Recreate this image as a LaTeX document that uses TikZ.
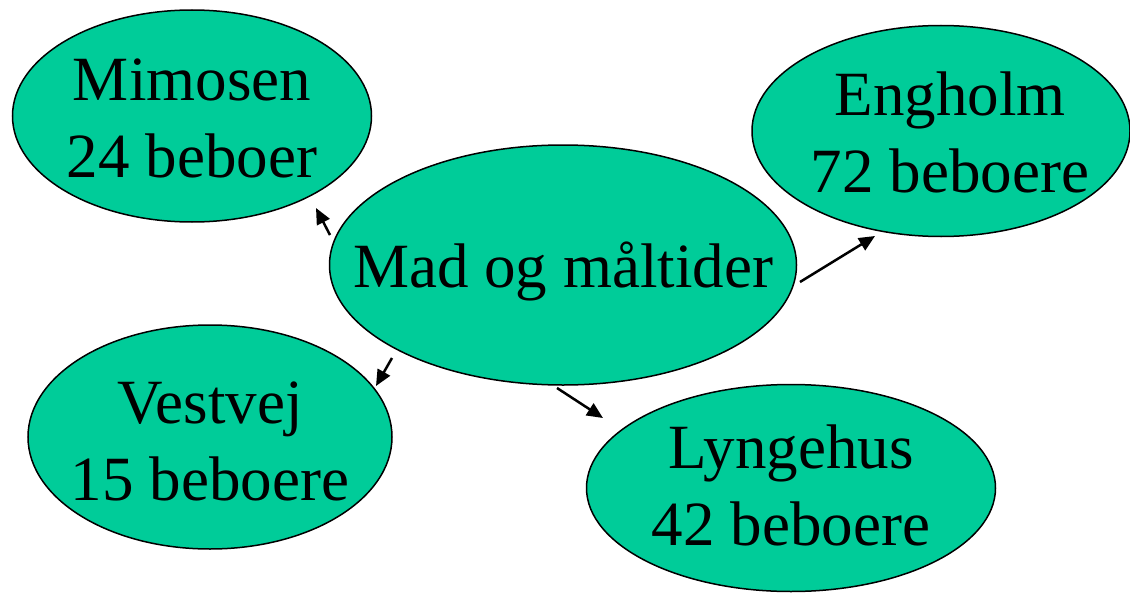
\documentclass[tikz,border=0pt]{standalone}
\usepackage{fontspec}
\setmainfont{Liberation Serif}
\usetikzlibrary{arrows.meta,shapes.geometric}
\definecolor{blobfill}{HTML}{00CC99}
\begin{document}
\begin{tikzpicture}[x=1pt,y=-1pt,
  blob/.style={draw=black,line width=1.5pt,fill=blobfill,ellipse,inner sep=0pt},
  txt/.style={font=\fontsize{63}{77}\selectfont,align=center,inner sep=0pt,text=black},
  arr/.style={line width=2.5pt,-{Triangle[length=16pt,width=14pt]}}]
\useasboundingbox (0,0) rectangle (1130,594);
\node[blob,minimum width=359pt,minimum height=212pt] (mim) at (192,116) {};
\node[blob,minimum width=378pt,minimum height=211pt] (eng) at (941,131) {};
\node[blob,minimum width=467pt,minimum height=240pt] (mad) at (563,265) {};
\node[blob,minimum width=364pt,minimum height=224pt] (ves) at (210,437) {};
\node[blob,minimum width=409pt,minimum height=207pt] (lyn) at (791,488) {};
\node[txt,anchor=base] (mimt) at (192,177) {Mimosen\\24 beboer};
\node[txt,anchor=base] (engt) at (950,192) {Engholm\\72 beboere};
\node[txt,anchor=base] (madt) at (563,287) {Mad og måltider};
\node[txt,anchor=base] (vest) at (210,500) {Vestvej\\15 beboere};
\node[txt,anchor=base] (lynt) at (791,545) {Lyngehus\\42 beboere};
\coordinate (a1s) at (330,235); \coordinate (a1e) at (316,208);
\coordinate (a2s) at (800,282); \coordinate (a2e) at (875,236);
\coordinate (a3s) at (392,358); \coordinate (a3e) at (376,386);
\coordinate (a4s) at (557,388); \coordinate (a4e) at (603,418);
\draw[arr] (a1s) -- (a1e);
\draw[arr] (a2s) -- (a2e);
\draw[arr] (a3s) -- (a3e);
\draw[arr] (a4s) -- (a4e);
\end{tikzpicture}
\end{document}
